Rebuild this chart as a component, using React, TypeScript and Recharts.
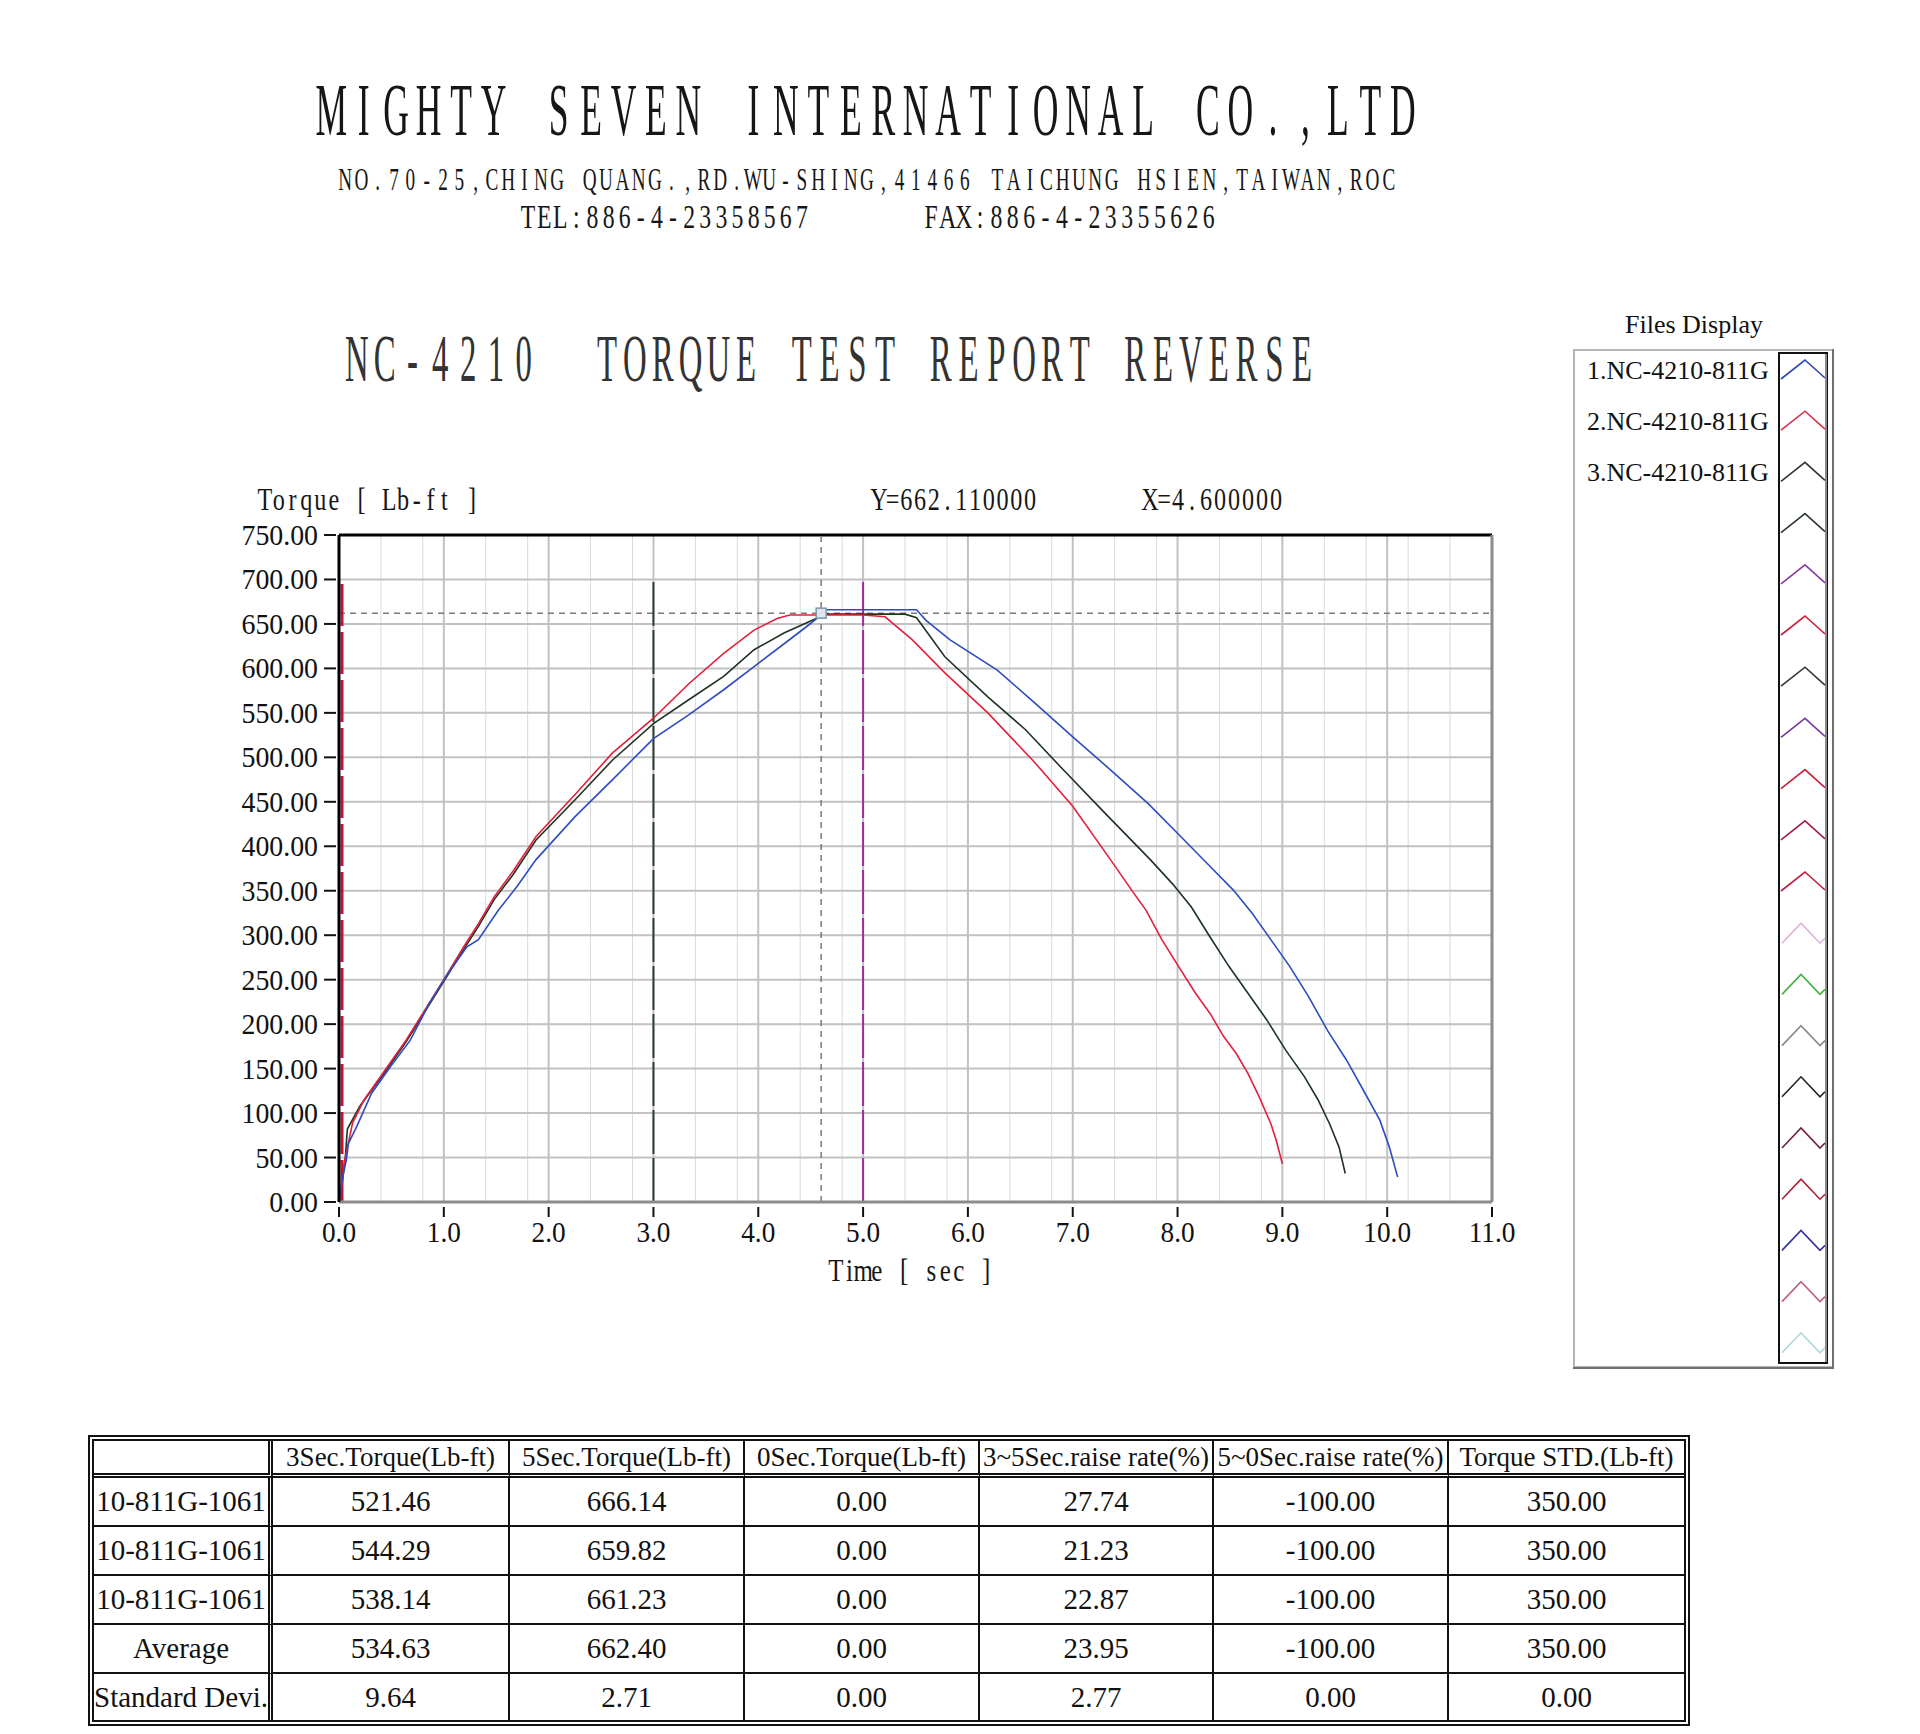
import React from 'react';
import { LineChart, Line, XAxis, YAxis, CartesianGrid, ReferenceLine, ReferenceDot } from 'recharts';

// file 1 (blue)
const blueTime = [0, 0.03, 0.07, 0.09, 0.17, 0.31, 0.49, 0.68, 0.86, 1.04, 1.22, 1.33, 1.52, 1.7, 1.88, 2.25, 2.61, 3.0, 3.34, 3.67, 3.96, 4.25, 4.45, 4.6, 4.64, 5.0, 5.51, 5.6, 5.83, 6.28, 6.64, 7.0, 7.36, 7.72, 8.03, 8.33, 8.53, 8.71, 8.89, 9.07, 9.25, 9.43, 9.61, 9.79, 9.93, 10.02, 10.1];
const blueTorque = [0, 25, 47, 66, 85, 122, 152, 182, 223, 257, 287, 295, 328, 355, 385, 433, 475, 521, 548, 576, 602, 628, 646, 660, 666, 666, 666, 654, 632, 598, 561, 523, 486, 448, 411, 375, 351, 325, 295, 265, 231, 193, 160, 122, 92, 62, 28];
// file 2 (red)
const redTime = [0, 0.03, 0.055, 0.13, 0.24, 0.42, 0.64, 0.82, 1.0, 1.19, 1.33, 1.48, 1.66, 1.88, 2.25, 2.61, 3.0, 3.34, 3.67, 3.96, 4.18, 4.3, 5.0, 5.21, 5.47, 5.78, 6.19, 6.64, 7.0, 7.36, 7.56, 7.7, 7.85, 8.03, 8.17, 8.31, 8.44, 8.56, 8.67, 8.78, 8.89, 8.94, 9.0];
const redTorque = [0, 20, 47, 89, 115, 145, 182, 216, 250, 287, 313, 343, 372, 411, 458, 505, 544, 583, 617, 643, 656, 660, 660, 658, 632, 595, 550, 494, 445, 385, 351, 328, 295, 261, 235, 212, 186, 167, 145, 118, 88, 70, 43];
// file 3 (dark green)
const greenTime = [0, 0.03, 0.06, 0.08, 0.2, 0.42, 0.64, 0.82, 1.0, 1.19, 1.33, 1.48, 1.66, 1.88, 2.25, 2.61, 3.0, 3.34, 3.67, 3.96, 4.25, 4.59, 4.65, 5.0, 5.4, 5.51, 5.78, 6.19, 6.55, 6.91, 7.31, 7.74, 7.95, 8.13, 8.31, 8.49, 8.67, 8.85, 9.03, 9.21, 9.34, 9.45, 9.54, 9.6];
const greenTorque = [0, 22, 50, 82, 108, 143, 180, 214, 248, 284, 310, 340, 368, 407, 452, 497, 538, 565, 591, 621, 640, 658, 661, 661, 661, 657, 613, 568, 531, 486, 437, 385, 358, 332, 298, 265, 235, 205, 171, 141, 115, 88, 62, 32];

const xTicks = [0, 1, 2, 3, 4, 5, 6, 7, 8, 9, 10, 11];
const yTicks = [0, 50, 100, 150, 200, 250, 300, 350, 400, 450, 500, 550, 600, 650, 700, 750];
const cursorTime = 4.6;
const cursorTorque = 662.11;
const markerTop = 700;

const fileNames = ['1.NC-4210-811G', '2.NC-4210-811G', '3.NC-4210-811G'];
const swatchColors = ['#3048b0', '#d8304a', '#2e3a2e', '#2e3a2e', '#8a3aa8', '#c8203c', '#2e3a2e', '#7a3aa0', '#c8203c', '#a02040', '#c02040', '#e0b0d8', '#40b040', '#888888', '#202020', '#702040', '#b02030', '#3030a0', '#c06080', '#a8d8d8'];

const columnHeads = ['', '3Sec.Torque(Lb-ft)', '5Sec.Torque(Lb-ft)', '0Sec.Torque(Lb-ft)', '3~5Sec.raise rate(%)', '5~0Sec.raise rate(%)', 'Torque STD.(Lb-ft)'];
const rowNames = ['10-811G-1061', '10-811G-1061', '10-811G-1061', 'Average', 'Standard Devi.'];
const sec3Torque = ['521.46', '544.29', '538.14', '534.63', '9.64'];
const sec5Torque = ['666.14', '659.82', '661.23', '662.40', '2.71'];
const sec0Torque = ['0.00', '0.00', '0.00', '0.00', '0.00'];
const raise35 = ['27.74', '21.23', '22.87', '23.95', '2.77'];
const raise50 = ['-100.00', '-100.00', '-100.00', '-100.00', '0.00'];
const torqueStd = ['350.00', '350.00', '350.00', '350.00', '0.00'];

const SERIF = '"Liberation Serif", "Times New Roman", serif';

const toPoints = (ts: number[], vs: number[]) => ts.map((t, i) => ({ t, v: vs[i] }));

// each character centred in its own cell, glyphs squeezed like the old bitmap font
const MonoText = ({ text, x, y, width, size, sx, color = '#161616' }: any) => {
  const cell = width / text.length;
  const xs = Array.from(text as string, (_, i) => ((x + cell * (i + 0.5)) / sx).toFixed(1)).join(' ');
  return (
    <text x={xs} y={y} fontSize={size} fontFamily={SERIF} textAnchor="middle" fill={color}
      transform={`scale(${sx},1)`} style={{ whiteSpace: 'pre' }}>
      {text}
    </text>
  );
};

const YTick = ({ x, y, payload }: any) => (
  <g>
    <line x1={x - 15} x2={x - 3} y1={y} y2={y} stroke="#111" strokeWidth={2} />
    <text transform={`translate(${x - 21},${y + 10}) scale(0.96,1)`} textAnchor="end" fontFamily={SERIF} fontSize={29} fill="#111">
      {Number(payload.value).toFixed(2)}
    </text>
  </g>
);

const XTick = ({ x, y, payload }: any) => (
  <g>
    <line x1={x} x2={x} y1={y + 5} y2={y + 15} stroke="#111" strokeWidth={2} />
    <text transform={`translate(${x},${y + 40}) scale(0.94,1)`} textAnchor="middle" fontFamily={SERIF} fontSize={29} fill="#111">
      {Number(payload.value).toFixed(1)}
    </text>
  </g>
);

// the red start marker sits just inside the left frame
const StartMarker = ({ x1, y1, x2, y2 }: any) => (
  <line x1={x1 + 3} y1={y1} x2={x2 + 3} y2={y2} stroke="#c8102e" strokeWidth={3} strokeDasharray="42 6" />
);

export default function App() {
  const minorX = Array.from({ length: 56 }, (_, i) => +(i * 0.2).toFixed(1));
  const minorY = Array.from({ length: 31 }, (_, i) => i * 25);
  const columns = [sec3Torque, sec5Torque, sec0Torque, raise35, raise50, torqueStd];
  const colWidths = [179, 237, 235, 235, 234, 235, 235];
  const rowHeights = [47, 47, 47, 47, 46];

  return (
    <div style={{ position: 'absolute', left: 0, top: 0, width: 1920, height: 1734, background: '#fff', overflow: 'hidden' }}>
      <svg width={1920} height={1734} style={{ position: 'absolute', left: 0, top: 0 }}>
        <MonoText text="MIGHTY SEVEN INTERNATIONAL CO.,LTD" x={315} y={135} width={1104} size={74} sx={0.48} />
        <MonoText text="NO.70-25,CHING QUANG.,RD.WU-SHING,41466 TAICHUNG HSIEN,TAIWAN,ROC" x={337} y={190} width={1060} size={31} sx={0.62} />
        <MonoText text="TEL:886-4-23358567" x={520} y={228} width={290} size={33} sx={0.72} />
        <MonoText text="FAX:886-4-23355626" x={923} y={228} width={294} size={33} sx={0.72} />
        <MonoText text="NC-4210  TORQUE TEST REPORT REVERSE" x={343} y={381} width={973} size={67} sx={0.49} color="#333" />
        <MonoText text="Torque [ Lb-ft ]" x={258} y={510} width={221} size={31} sx={0.78} />
        <MonoText text={`Y=${cursorTorque.toFixed(6)}`} x={872} y={510} width={165} size={31} sx={0.78} />
        <MonoText text={`X=${cursorTime.toFixed(6)}`} x={1143} y={510} width={140} size={31} sx={0.78} />
        <MonoText text="Time [ sec ]" x={829} y={1281} width={164} size={32} sx={0.78} />

        {/* Files Display panel */}
        <text x={1625} y={333} fontFamily={SERIF} fontSize={26} fill="#111">Files Display</text>
        <rect x={1574} y={350} width={259} height={1017} fill="#fff" stroke="#b4b4b4" strokeWidth={2} />
        <line x1={1833} y1={349} x2={1833} y2={1368} stroke="#707070" strokeWidth={2} />
        <line x1={1573} y1={1368} x2={1834} y2={1368} stroke="#707070" strokeWidth={2} />
        <rect x={1779} y={353} width={48} height={1010} fill="#fff" stroke="#111" strokeWidth={2} />
        <line x1={1826} y1={354} x2={1826} y2={1362} stroke="#8a8a8a" strokeWidth={2} />
        {fileNames.map((n, i) => (
          <text key={n + i} x={1587} y={379 + i * 51.2} fontFamily={SERIF} fontSize={26} fill="#111">{n}</text>
        ))}
        {swatchColors.map((c, i) => {
          const cy = 370 + i * 51.2;
          const pts = i <= 10
            ? `1781,${cy + 9} 1805,${cy - 10} 1825,${cy + 8}`
            : `1782,${cy + 10} 1801,${cy - 10} 1820,${cy + 10} 1825,${cy + 5}`;
          return <polyline key={i} points={pts} fill="none" stroke={c} strokeWidth={1.6} />;
        })}
      </svg>

      <div style={{ position: 'absolute', left: 200, top: 500 }}>
        <LineChart width={1340} height={760} margin={{ top: 35, right: 48, bottom: 8, left: 19 }}>
          <CartesianGrid verticalValues={minorX} horizontalValues={minorY} stroke="#d9d9d9" strokeWidth={1} />
          <CartesianGrid verticalValues={xTicks} horizontalValues={yTicks} stroke="#c2c2c2" strokeWidth={2} />
          <XAxis type="number" dataKey="t" domain={[0, 11]} ticks={xTicks} height={50} tickSize={0} tickMargin={0}
            axisLine={{ stroke: '#8c8c8c', strokeWidth: 3 }} tickLine={false} tick={(p: any) => <XTick {...p} />} />
          <YAxis type="number" dataKey="v" domain={[0, 750]} ticks={yTicks} width={120} tickSize={0} tickMargin={0}
            axisLine={{ stroke: '#000', strokeWidth: 3 }} tickLine={false} tick={(p: any) => <YTick {...p} />} />

          {/* frame: dark top, grey right */}
          <ReferenceLine y={750} stroke="#000" strokeWidth={3} />
          <ReferenceLine x={11} stroke="#8c8c8c" strokeWidth={3} />

          <ReferenceLine y={cursorTorque} stroke="#7a7a7a" strokeWidth={1.5} strokeDasharray="6 5" />
          <ReferenceLine x={cursorTime} stroke="#7a7a7a" strokeWidth={1.5} strokeDasharray="6 5" />
          <ReferenceLine segment={[{ x: 0, y: 0 }, { x: 0, y: markerTop }]} shape={(p: any) => <StartMarker {...p} />} />
          <ReferenceLine segment={[{ x: 3, y: 0 }, { x: 3, y: markerTop }]} stroke="#2f3f2f" strokeWidth={2} strokeDasharray="44 4" />
          <ReferenceLine segment={[{ x: 5, y: 0 }, { x: 5, y: markerTop }]} stroke="#a02ca0" strokeWidth={2} strokeDasharray="44 4" />

          <Line data={toPoints(greenTime, greenTorque)} dataKey="v" type="linear" stroke="#1f3320" strokeWidth={1.6} dot={false} isAnimationActive={false} />
          <Line data={toPoints(redTime, redTorque)} dataKey="v" type="linear" stroke="#e2203c" strokeWidth={1.6} dot={false} isAnimationActive={false} />
          <Line data={toPoints(blueTime, blueTorque)} dataKey="v" type="linear" stroke="#2d4cc0" strokeWidth={1.6} dot={false} isAnimationActive={false} />

          <ReferenceDot x={cursorTime} y={cursorTorque} r={5}
            shape={(p: any) => <rect x={p.cx - 5} y={p.cy - 5} width={10} height={10} fill="#dde6ee" stroke="#7f95a8" strokeWidth={1.5} />} />
        </LineChart>
      </div>

      <table style={{ position: 'absolute', left: 88, top: 1435, width: 1602, borderCollapse: 'separate', borderSpacing: 0, border: '6px double #111', tableLayout: 'fixed', fontFamily: SERIF, color: '#111' }}>
        <colgroup>
          {colWidths.map((w, i) => <col key={i} style={{ width: w }} />)}
        </colgroup>
        <tbody>
          <tr>
            {columnHeads.map((h, ci) => (
              <td key={ci} style={{ height: 32, padding: 0, fontSize: 27, textAlign: 'center', whiteSpace: 'nowrap', overflow: 'hidden', borderBottom: '5px double #111', borderRight: ci === 0 ? '5px double #111' : ci < 6 ? '2px solid #111' : 'none' }}>{h}</td>
            ))}
          </tr>
          {rowNames.map((name, ri) => (
            <tr key={ri}>
              {[name, ...columns.map(col => col[ri])].map((val, ci) => (
                <td key={ci} style={{ height: rowHeights[ri], padding: 0, fontSize: 29, textAlign: 'center', whiteSpace: 'nowrap', overflow: 'hidden', borderBottom: ri < 4 ? '2px solid #111' : 'none', borderRight: ci === 0 ? '5px double #111' : ci < 6 ? '2px solid #111' : 'none' }}>{val}</td>
              ))}
            </tr>
          ))}
        </tbody>
      </table>
    </div>
  );
}
